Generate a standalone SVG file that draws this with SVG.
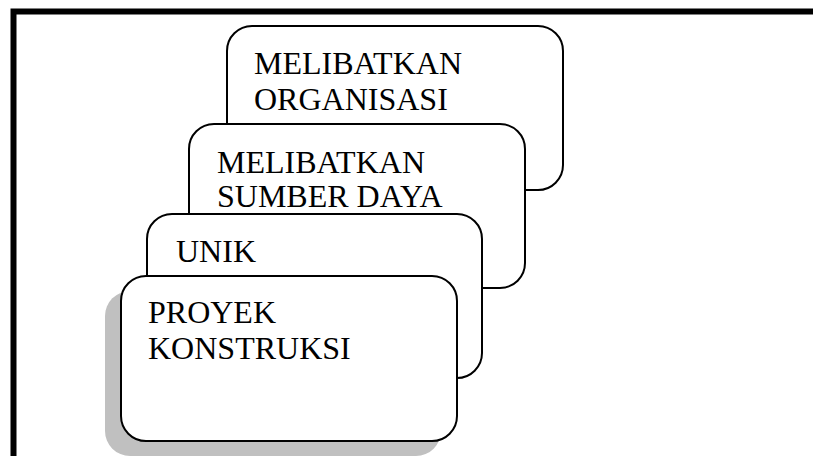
<svg xmlns="http://www.w3.org/2000/svg" width="813" height="456" viewBox="0 0 813 456">
<style>
.box{fill:#ffffff;stroke:#000000;stroke-width:2}
.t{font-family:"Liberation Serif","Times New Roman",serif;font-size:32px;fill:#000000}
</style>
<rect x="0" y="0" width="813" height="456" fill="#ffffff"/>
<rect x="13.5" y="11.5" width="900" height="600" fill="none" stroke="#000000" stroke-width="6"/>
<g id="node-organisasi">
<rect class="box" x="227" y="26" width="336" height="164" rx="25" ry="25"/>
<text class="t" x="254" y="73.5">MELIBATKAN</text>
<text class="t" x="254" y="109.5">ORGANISASI</text>
</g>
<g id="node-sumberdaya">
<rect class="box" x="189" y="124" width="336" height="164" rx="25" ry="25"/>
<text class="t" x="217" y="172.5">MELIBATKAN</text>
<text class="t" x="217" y="206.5">SUMBER DAYA</text>
</g>
<g id="node-unik">
<rect class="box" x="147" y="214" width="335" height="164" rx="25" ry="25"/>
<text class="t" x="176" y="262">UNIK</text>
</g>
<g id="node-proyek">
<rect x="105" y="291" width="336" height="165" rx="25" ry="25" fill="#c0c0c0"/>
<rect class="box" x="121" y="276" width="336" height="165" rx="25" ry="25"/>
<text class="t" x="148" y="323">PROYEK</text>
<text class="t" x="148" y="359">KONSTRUKSI</text>
</g>
<g id="connectors"></g>
</svg>
